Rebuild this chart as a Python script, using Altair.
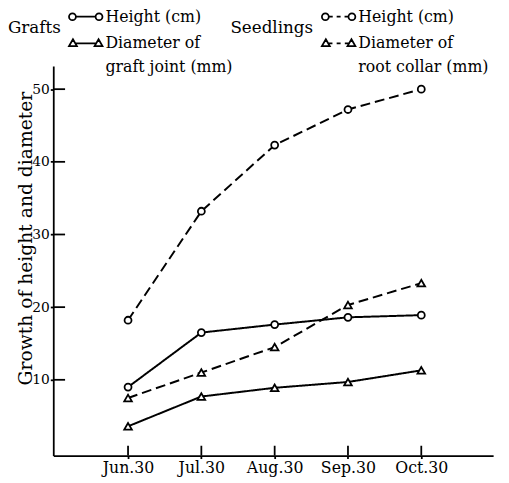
import altair as alt
import pandas as pd

months = ["Jun.30", "Jul.30", "Aug.30", "Sep.30", "Oct.30"]
graft_height = [9.0, 16.5, 17.6, 18.6, 18.9]
graft_diameter = [3.6, 7.7, 8.9, 9.7, 11.3]
seedling_height = [18.2, 33.2, 42.3, 47.2, 50.0]
seedling_diameter = [7.5, 11.0, 14.5, 20.3, 23.3]
y_tick_values = [10, 20, 30, 40, 50]
x_tick_values = [0, 1, 2, 3, 4]
graft_labels = ["Height (cm)", "Diameter of|graft joint (mm)"]
seedling_labels = ["Height (cm)", "Diameter of|root collar (mm)"]

rows = []
for group, measure, vals, labels in [
    ("Grafts", "Height", graft_height, graft_labels),
    ("Grafts", "Diameter", graft_diameter, graft_labels),
    ("Seedlings", "Height", seedling_height, seedling_labels),
    ("Seedlings", "Diameter", seedling_diameter, seedling_labels),
]:
    lab = labels[0] if measure == "Height" else labels[1]
    for i, v in enumerate(vals):
        rows.append({"idx": i, "month": months[i], "value": v, "group": group,
                     "measure": measure, "series": group + " " + measure, "label": lab,
                     "ytick": y_tick_values[i], "xtick": x_tick_values[i]})
df = pd.DataFrame(rows)

FONT = "DejaVu Serif"
W, H = 447, 396
xs = alt.Scale(domain=[-1.02, 4.98], nice=False, zero=False)
ys = alt.Scale(domain=[-0.43, 53.2], nice=False, zero=False)
label_expr = "[" + ",".join("'%s'" % m for m in months) + "][datum.value]"

x_axis = alt.Axis(
    orient="bottom", values=x_tick_values, labelExpr=label_expr, ticks=True, tickSize=3,
    tickColor="black", tickWidth=1.8,
    grid=False, domainColor="black", domainWidth=1.8, labelFont=FONT, labelFontSize=16,
    labelColor="black", labelPadding=1, title=None)
y_axis = alt.Axis(
    orient="left", values=y_tick_values, ticks=True, tickSize=3, tickColor="black",
    tickWidth=1.8, grid=False,
    domainColor="black", domainWidth=1.8, labelFont=FONT, labelFontSize=14,
    labelColor="black", labelPadding=1, title="Growth of height and diameter",
    titleFont=FONT, titleFontSize=19, titleFontWeight="normal", titleColor="black",
    titleX=-28, titleY=175, titleAngle=270, titleBaseline="middle", titleAlign="center")


def X(field="idx"):
    return alt.X(field + ":Q", scale=xs, axis=x_axis)


def Y(field="value"):
    return alt.Y(field + ":Q", scale=ys, axis=y_axis)


base = alt.Chart(df)
tick_rows = base.transform_filter(alt.datum.series == "Grafts Height")

# inward tick marks of the axes
ytick_marks = tick_rows.mark_tick(
    orient="horizontal", color="black", thickness=1.8, size=12, opacity=1).encode(
    y=Y("ytick"), x=alt.value(6))
xtick_marks = tick_rows.mark_tick(
    orient="vertical", color="black", thickness=1.8, size=10, opacity=1).encode(
    x=X("xtick"), y=alt.value(H - 5))

lines = base.mark_line(color="black", strokeWidth=2).encode(
    x=X(), y=Y(), detail="series:N",
    strokeDash=alt.StrokeDash("group:N", scale=alt.Scale(domain=["Grafts", "Seedlings"],
                                                        range=[[1, 0], [10, 5]]), legend=None),
)

points = base.mark_point(filled=True, fill="white", stroke="black", strokeWidth=1.8, opacity=1).encode(
    x=X(), y=Y(),
    shape=alt.Shape("measure:N", scale=alt.Scale(domain=["Height", "Diameter"],
                                                 range=["circle", "triangle-up"]), legend=None),
    size=alt.Size("measure:N", scale=alt.Scale(domain=["Height", "Diameter"], range=[50, 60]),
                  legend=None),
)

r = 0.206
circ_l = "M -1,0 A %g,%g 0 1,0 %g,0 A %g,%g 0 1,0 -1,0 Z" % (r, r, -1 + 2 * r, r, r)
circ_r = "M %g,0 A %g,%g 0 1,0 1,0 A %g,%g 0 1,0 %g,0 Z" % (1 - 2 * r, r, r, r, r, 1 - 2 * r)
tri_l = "M -0.765,-0.24 L -0.53,0.17 L -1,0.17 Z"
tri_r = "M 0.765,-0.24 L 1,0.17 L 0.53,0.17 Z"
path_gh = circ_l + " " + circ_r + " M %g,0 L %g,0" % (-1 + 2 * r, 1 - 2 * r)
path_gd = tri_l + " " + tri_r + " M -0.627,0 L 0.627,0"
dots = " M -0.588,0 L -0.353,0 M -0.118,0 L 0.118,0 M 0.353,0 L 0.588,0"
path_sh = circ_l + " " + circ_r + dots
path_sd = tri_l + " " + tri_r + " M -0.627,0 L -0.37,0 M -0.118,0 L 0.118,0 M 0.37,0 L 0.627,0"


def legend_layer(group, labels, paths, lx, ly):
    return base.transform_filter(alt.datum.group == group).mark_point(opacity=0).encode(
        x=X(), y=Y(),
        shape=alt.Shape("label:N", scale=alt.Scale(domain=labels, range=paths),
                        legend=alt.Legend(
                            orient="none", legendX=lx, legendY=ly, direction="vertical",
                            title=group, titleOrient="left", titleFont=FONT, titleFontSize=17,
                            titleFontWeight="normal", titleColor="black", titlePadding=7,
                            titleAnchor="middle", titleBaseline="bottom",
                            labelFont=FONT, labelFontSize=16, labelColor="black", labelOffset=2,
                            labelLimit=400, labelExpr="split(datum.label, '|')",
                            symbolSize=1156, symbolStrokeWidth=1.8, symbolStrokeColor="black",
                            symbolFillColor="white", symbolOpacity=1, rowPadding=1,
                            padding=0, offset=0)),
    )


leg_g = legend_layer("Grafts", graft_labels, [path_gh, path_gd], -46, -68)
leg_s = legend_layer("Seedlings", seedling_labels, [path_sh, path_sd], 180, -68)

chart = alt.layer(lines, points, ytick_marks, xtick_marks, leg_g, leg_s).resolve_scale(
    shape="independent", size="independent"
).resolve_legend(shape="independent").properties(
    width=W, height=H,
    padding={"left": 46, "top": 55, "right": 8, "bottom": 24},
    autosize=alt.AutoSizeParams(type="none"),
).configure(
    style={"guide-label": {"lineHeight": 24}},
    view=alt.ViewConfig(stroke="transparent"),
)

chart.save("out.html", embed_options={"renderer": "svg", "actions": False})
